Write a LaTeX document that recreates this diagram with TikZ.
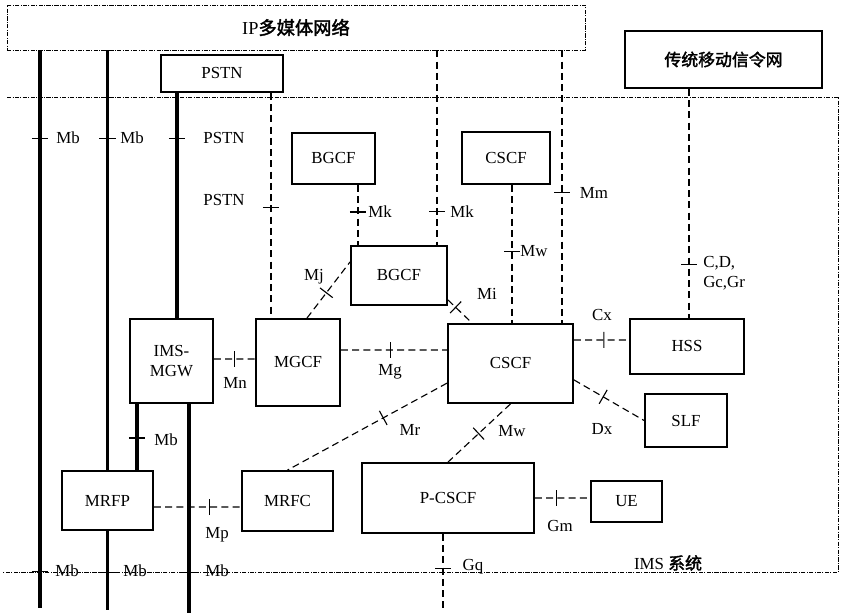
\documentclass[tikz,border=0pt]{standalone}
\usepackage{fontspec}
\setmainfont{Liberation Serif}
\newfontfamily\cjk{Noto Sans CJK SC}[FakeBold=2]
\usetikzlibrary{positioning}
\tikzstyle{nebox} = [rectangle, draw, line width=1.3pt, inner sep=0pt, text centered, font=\fontsize{12}{14}\selectfont]
\tikzstyle{netbox} = [rectangle, draw, line width=0.6pt, densely dashdotted, inner sep=0pt, font=\fontsize{13}{15}\selectfont]
\tikzstyle{sysframe} = [line width=0.6pt, densely dashdotted]
\tikzstyle{trunk} = [line width=2.2pt]
\tikzstyle{link} = [line width=0.8pt, dash pattern=on 5pt off 3pt]
\tikzstyle{tick} = [sloped, inner sep=0pt]
\tikzstyle{iflabel} = [inner sep=0pt, font=\fontsize{12}{14}\selectfont]
\newcommand{\tk}{\rule{0.8pt}{0.4cm}}

\begin{document}
\begin{tikzpicture}[x=0.025cm, y=-0.025cm]
  \useasboundingbox (0,0) rectangle (844,615);
  % outer networks
  \node (ipnet) [netbox, minimum width=14.45cm, minimum height=1.125cm] at (296,27.5) {IP{\cjk 多媒体网络}};
  \node (mobnet) [nebox, minimum width=4.925cm, minimum height=1.425cm] at (723.5,59.5) {\cjk 传统移动信令网};
  \node (pstn) [nebox, minimum width=3.05cm, minimum height=0.925cm] at (222,73.5) {PSTN};
  \draw [sysframe] (7,97) -- (838,97) -- (838,572) -- (3,572);
  \node (imslabel) [iflabel] at (668,563) {IMS {\cjk 系统}};
  % functional entities
  \node (bgcf1) [nebox, minimum width=2.075cm, minimum height=1.275cm] at (333.5,158.5) {BGCF};
  \node (cscf1) [nebox, minimum width=2.2cm, minimum height=1.3cm] at (506,158) {CSCF};
  \node (bgcf2) [nebox, minimum width=2.4cm, minimum height=1.475cm] at (399,275.5) {BGCF};
  \node (mgw) [nebox, align=center, minimum width=2.075cm, minimum height=2.1cm] at (171.5,361) {IMS-\\MGW};
  \node (mgcf) [nebox, minimum width=2.1cm, minimum height=2.175cm] at (298,362.5) {MGCF};
  \node (cscf) [nebox, minimum width=3.125cm, minimum height=1.975cm] at (510.5,363.5) {CSCF};
  \node (hss) [nebox, minimum width=2.85cm, minimum height=1.375cm] at (687,346.5) {HSS};
  \node (slf) [nebox, minimum width=2.05cm, minimum height=1.325cm] at (686,420.5) {SLF};
  \node (mrfp) [nebox, minimum width=2.275cm, minimum height=1.475cm] at (107.5,500.5) {MRFP};
  \node (mrfc) [nebox, minimum width=2.275cm, minimum height=1.5cm] at (287.5,501) {MRFC};
  \node (pcscf) [nebox, minimum width=4.3cm, minimum height=1.75cm] at (448,498) {P-CSCF};
  \node (ue) [nebox, minimum width=1.775cm, minimum height=1.025cm] at (626.5,501.5) {UE};
  % line columns and free ends
  \coordinate (c1) at (40,608);
  \coordinate (c2) at (107.5,610);
  \coordinate (c3) at (177,0);
  \coordinate (c4) at (137,0);
  \coordinate (c5) at (189,613);
  \coordinate (c6) at (271,0);
  \coordinate (c7) at (358,0);
  \coordinate (c8) at (437,0);
  \coordinate (c9) at (512,0);
  \coordinate (c10) at (562,0);
  \coordinate (c11) at (689,0);
  \coordinate (c12) at (443,612);
  % bearer (Mb) lines
  \draw [trunk] (ipnet.south -| c1) -- node[tick, pos=0.158] {\tk} node[tick, pos=0.935] {\tk} (c1);
  \draw [trunk] (ipnet.south -| c2) -- node[tick, pos=0.209] {\tk} (mrfp.north);
  \draw [trunk] (mrfp.south) -- node[tick, pos=0.525] {\tk} (c2);
  \draw [trunk] (pstn.south -| c3) -- node[tick, pos=0.203] {\tk} (mgw.north -| c3);
  \draw [trunk] (mgw.south -| c4) -- node[tick, pos=0.515] {\tk} (mrfp.north -| c4);
  \draw [trunk] (mgw.south -| c5) -- node[tick, pos=0.805] {\tk} (c5);
  % signalling lines
  \draw [link] (pstn.south -| c6) -- node[tick, pos=0.507] {\tk} (mgcf.north -| c6);
  \draw [link] (bgcf1.south -| c7) -- node[tick, pos=0.45] {\tk} (bgcf2.north -| c7);
  \draw [link] (ipnet.south -| c8) -- node[tick, pos=0.827] {\tk} (bgcf2.north -| c8);
  \draw [link] (cscf1.south -| c9) -- node[tick, pos=0.479] {\tk} (cscf.north -| c9);
  \draw [link] (ipnet.south -| c10) -- node[tick, pos=0.522] {\tk} (cscf.north -| c10);
  \draw [link] (mobnet.south -| c11) -- node[tick, pos=0.766] {\tk} (hss.north -| c11);
  \draw [link] (pcscf.south -| c12) -- node[tick, pos=0.443] {\tk} (c12);
  \draw [link] ([yshift=0.05cm]mgw.east) -- node[tick, pos=0.49] {\tk} ([yshift=0.0875cm]mgcf.west);
  \draw [link] ([yshift=0.3125cm]mgcf.east) -- node[tick, pos=0.463] {\tk} ([yshift=0.3375cm]cscf.west);
  \draw [link] ([yshift=0.5875cm]cscf.east) -- node[tick, pos=0.544] {\tk} ([yshift=0.1625cm]hss.west);
  \draw [link] ([yshift=-0.41cm]cscf.east) -- node[tick, pos=0.417] {\tk} (slf.west);
  \draw [link] ([xshift=0.225cm]mgcf.north) -- node[tick, pos=0.45] {\tk} ([yshift=0.34cm]bgcf2.west);
  \draw [link] ([yshift=0.15cm]bgcf2.south east) -- node[tick, pos=0.32] {\tk} ([xshift=-0.96cm]cscf.north);
  \draw [link] ([yshift=-0.49cm]cscf.west) -- node[tick, pos=0.40] {\tk} (mrfc.north);
  \draw [link] (cscf.south) -- node[tick, pos=0.51] {\tk} (pcscf.north);
  \draw [link] ([yshift=-0.1625cm]mrfp.east) -- node[tick, pos=0.64] {\tk} ([yshift=-0.15cm]mrfc.west);
  \draw [link] (pcscf.east) -- node[tick, pos=0.386] {\tk} ([yshift=0.0875cm]ue.west);
  % interface labels
  \node (lmb1) [iflabel] at (68,138) {Mb};
  \node (lmb2) [iflabel] at (132,138) {Mb};
  \node (lpstn1) [iflabel] at (224,138) {PSTN};
  \node (lpstn2) [iflabel] at (224,200) {PSTN};
  \node (lmk1) [iflabel] at (380,212) {Mk};
  \node (lmk2) [iflabel] at (462,212) {Mk};
  \node (lmm) [iflabel] at (594,193) {Mm};
  \node (lmw1) [iflabel] at (534,251) {Mw};
  \node (lcd) [iflabel, anchor=west, align=left] at (703,273) {C,D,\\Gc,Gr};
  \node (lmj) [iflabel] at (314,277) {Mj};
  \node (lmi) [iflabel] at (487,294) {Mi};
  \node (lmn) [iflabel] at (235,383) {Mn};
  \node (lmg) [iflabel] at (390,372) {Mg};
  \node (lcx) [iflabel] at (602,315) {Cx};
  \node (ldx) [iflabel] at (602,429) {Dx};
  \node (lmr) [iflabel] at (410,430) {Mr};
  \node (lmw2) [iflabel] at (512,431) {Mw};
  \node (lmb6) [iflabel] at (166,440) {Mb};
  \node (lmp) [iflabel] at (217,535) {Mp};
  \node (lgm) [iflabel] at (560,526) {Gm};
  \node (lgq) [iflabel] at (473,567) {Gq};
  \node (lmb3) [iflabel] at (67,571) {Mb};
  \node (lmb4) [iflabel] at (135,571) {Mb};
  \node (lmb5) [iflabel] at (217,571) {Mb};
\end{tikzpicture}
\end{document}
